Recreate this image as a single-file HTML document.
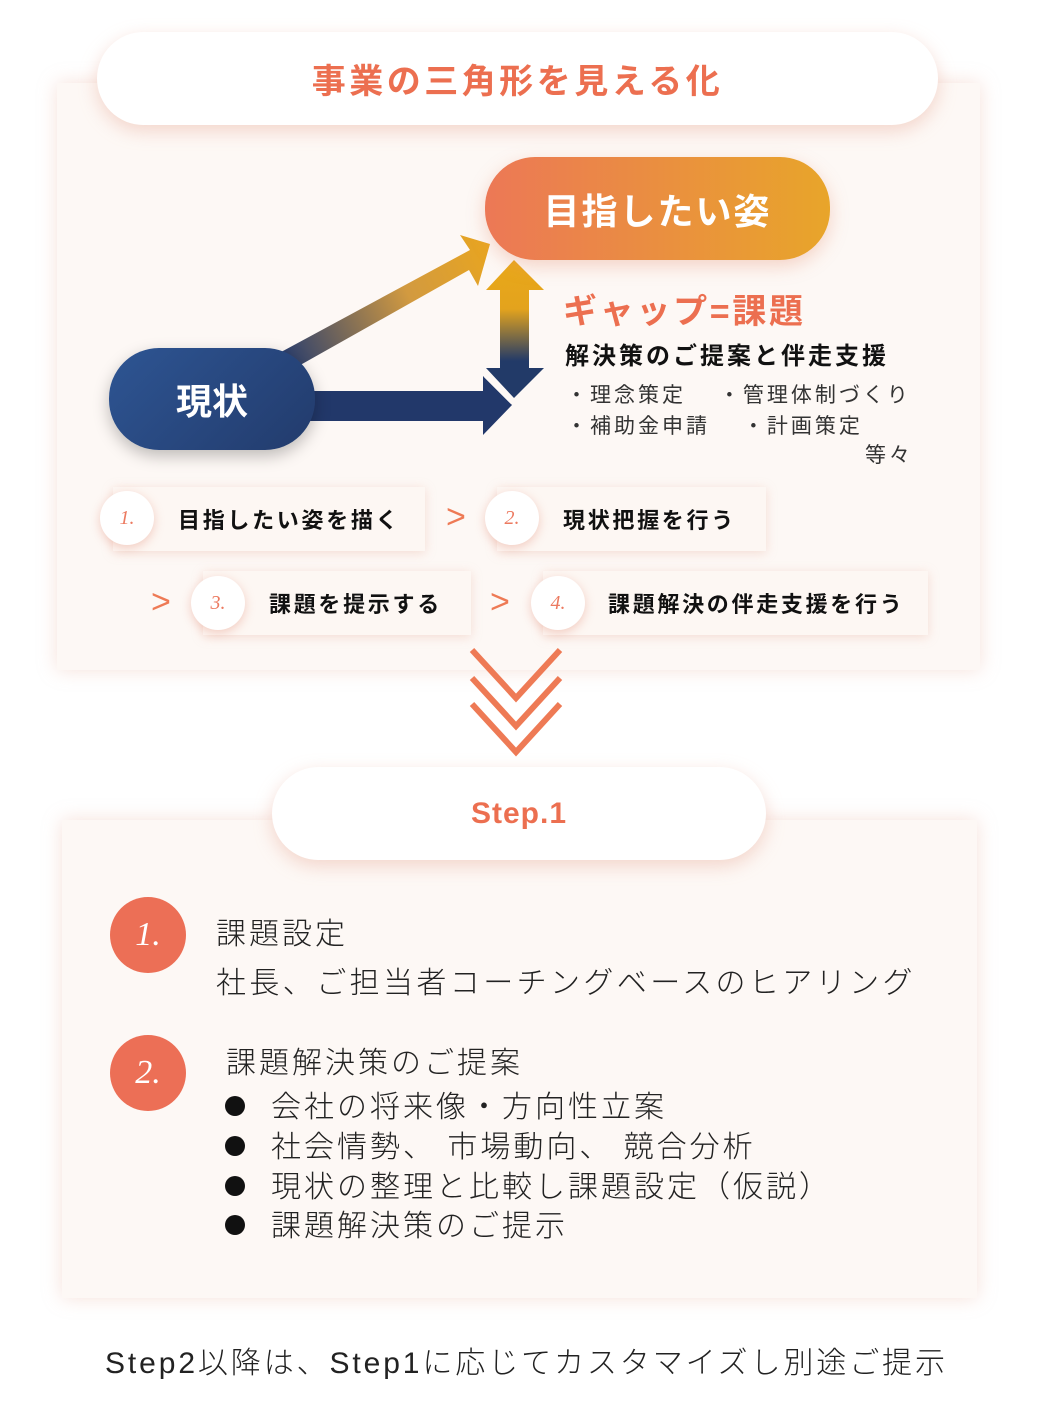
<!DOCTYPE html>
<html><head><meta charset="utf-8"><style>
*{margin:0;padding:0;box-sizing:border-box}
body{width:1050px;height:1404px;background:#fff;position:relative;overflow:hidden;font-family:"Liberation Sans","Noto Sans CJK JP",sans-serif;color:#111}
.a{position:absolute;white-space:nowrap}
.panel{position:absolute;background:#fdf8f5;box-shadow:0 0 18px rgba(230,170,150,.35)}
.pill{position:absolute;border-radius:50px;display:flex;align-items:center;justify-content:center;font-weight:bold}
.box{position:absolute;height:64px;background:#fdf7f3;box-shadow:0 2px 10px rgba(230,170,150,.35);font-size:22px;font-weight:bold;display:flex;align-items:center;letter-spacing:2.7px}
.c{position:absolute;width:54px;height:54px;border-radius:50%;background:#fff;box-shadow:0 3px 10px rgba(230,150,130,.45);color:#ec7a60;font-family:"Liberation Serif",serif;font-style:italic;font-size:20px;display:flex;align-items:center;justify-content:center}
.gt{position:absolute;color:#ee7a55;font-size:34px;font-weight:300;line-height:1}
.big{position:absolute;width:76px;height:76px;border-radius:50%;background:#ec6f56;color:#fff;font-family:"Liberation Serif",serif;font-style:italic;font-size:34px;display:flex;align-items:center;justify-content:center}
.t{position:absolute;font-size:30px;font-weight:300;white-space:nowrap;color:#222;letter-spacing:3px}
.b{position:absolute;left:225px;width:20px;height:20px;border-radius:50%;background:#111}
</style></head><body>
<div class="panel" style="left:57px;top:83px;width:923px;height:587px"></div>
<div class="panel" style="left:62px;top:820px;width:915px;height:478px"></div>

<div class="pill" style="left:97px;top:32px;width:841px;height:93px;background:#fff;box-shadow:0 6px 18px rgba(230,160,140,.4);color:#ec6f50;font-size:34px;letter-spacing:3.5px">事業の三角形を見える化</div>

<svg class="a" style="left:0;top:0" width="1050" height="700">
<defs>
<linearGradient id="g1" x1="280" y1="350" x2="490" y2="250" gradientUnits="userSpaceOnUse"><stop offset="0" stop-color="#2a3e6e"/><stop offset="0.6" stop-color="#d29a40"/><stop offset="1" stop-color="#e8a520"/></linearGradient>
<linearGradient id="g2" x1="0" y1="270" x2="0" y2="400" gradientUnits="userSpaceOnUse"><stop offset="0" stop-color="#e8a71a"/><stop offset="0.3" stop-color="#e3a31d"/><stop offset="0.7" stop-color="#223a68"/><stop offset="1" stop-color="#223a68"/></linearGradient>
</defs>
<polygon points="270,358 470,250 460,235 490,244 478,286 469,270 295,368" fill="url(#g1)"/>
<polygon points="300,391 483,391 483,376 512,405 483,435 483,421 300,421" fill="#22386a"/>
<polygon points="500,290 486,290 514,260 544,290 529,290 529,368 544,368 514,398 486,368 500,368" fill="url(#g2)"/>
<line x1="485" y1="376" x2="512" y2="403" stroke="#fdf8f5" stroke-width="3"/>
</svg>

<div class="pill" style="left:485px;top:157px;width:345px;height:103px;background:linear-gradient(90deg,#ec7856,#e8a52a);color:#fff;font-size:36px;letter-spacing:2px;box-shadow:0 6px 18px rgba(230,140,110,.35)">目指したい姿</div>
<div class="pill" style="left:109px;top:348px;width:206px;height:102px;background:linear-gradient(135deg,#2e5593,#223b6c);color:#fff;font-size:36px;box-shadow:0 6px 16px rgba(0,0,0,.25)">現状</div>

<div class="a" style="left:563px;top:284px;font-size:34px;font-weight:bold;color:#ec6f50;letter-spacing:2.7px">ギャップ=課題</div>
<div class="a" style="left:565px;top:336px;font-size:24px;font-weight:bold;letter-spacing:3px">解決策のご提案と伴走支援</div>
<div class="a" style="left:566px;top:379px;font-size:21px;color:#333;letter-spacing:3px">・理念策定　 ・管理体制づくり</div>
<div class="a" style="left:566px;top:410px;font-size:21px;color:#333;letter-spacing:3px">・補助金申請　 ・計画策定</div>
<div class="a" style="left:865px;top:439px;font-size:21px;color:#333;letter-spacing:3px">等々</div>

<div class="box" style="left:113px;top:487px;width:312px;padding-left:65px">目指したい姿を描く</div>
<div class="c" style="left:100px;top:491px">1.</div>
<div class="gt" style="left:446px;top:500px">&gt;</div>
<div class="box" style="left:497px;top:487px;width:269px;padding-left:66px">現状把握を行う</div>
<div class="c" style="left:485px;top:491px">2.</div>
<div class="gt" style="left:151px;top:585px">&gt;</div>
<div class="box" style="left:203px;top:571px;width:268px;padding-left:66px">課題を提示する</div>
<div class="c" style="left:191px;top:576px">3.</div>
<div class="gt" style="left:490px;top:585px">&gt;</div>
<div class="box" style="left:543px;top:571px;width:385px;padding-left:65px">課題解決の伴走支援を行う</div>
<div class="c" style="left:531px;top:576px">4.</div>

<svg class="a" style="left:460px;top:640px" width="110" height="125">
<g fill="none" stroke="#ee7a55" stroke-width="6">
<polyline points="12,10 56,58 100,10"/><polyline points="12,38 56,86 100,38"/><polyline points="12,64 56,112 100,64"/>
</g></svg>

<div class="pill" style="left:272px;top:767px;width:494px;height:93px;background:#fff;box-shadow:0 6px 18px rgba(230,160,140,.4);color:#ec6f50;font-size:30px;letter-spacing:1px">Step.1</div>

<div class="big" style="left:110px;top:897px">1.</div>
<div class="big" style="left:110px;top:1035px">2.</div>
<div class="t" style="left:216px;top:909px">課題設定</div>
<div class="t" style="left:216px;top:958px;letter-spacing:3.4px">社長、ご担当者コーチングベースのヒアリング</div>
<div class="t" style="left:226px;top:1038px">課題解決策のご提案</div>
<div class="b" style="top:1096px"></div><div class="t" style="left:271px;top:1082px">会社の将来像・方向性立案</div>
<div class="b" style="top:1136px"></div><div class="t" style="left:271px;top:1122px">社会情勢、 市場動向、 競合分析</div>
<div class="b" style="top:1176px"></div><div class="t" style="left:271px;top:1162px">現状の整理と比較し課題設定（仮説）</div>
<div class="b" style="top:1215px"></div><div class="t" style="left:271px;top:1201px">課題解決策のご提示</div>

<div class="t" style="left:105px;top:1338px;letter-spacing:2.9px">Step2以降は、Step1に応じてカスタマイズし別途ご提示</div>
</body></html>
